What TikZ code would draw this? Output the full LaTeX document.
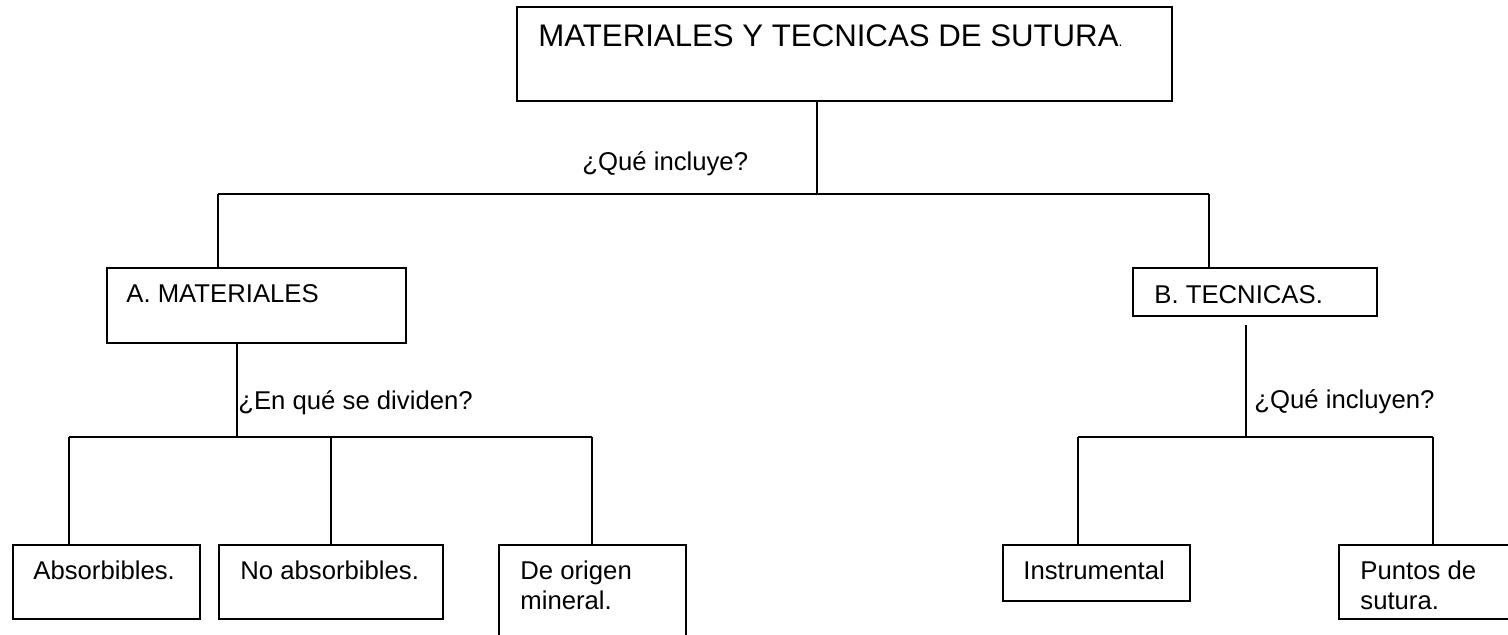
\documentclass[tikz,border=0pt]{standalone}
\usepackage{fontspec}
\setmainfont{Liberation Sans}
\usetikzlibrary{fit}
\begin{document}
\begin{tikzpicture}[x=0.5pt,y=-0.5pt,
  box/.style={draw, rectangle, inner sep=0pt, line width=1pt},
  txt/.style={anchor=base west, inner sep=0pt, font=\fontsize{12.85}{15}\selectfont},
  ttl/.style={anchor=base west, inner sep=0pt, font=\fontsize{15.6}{18}\selectfont},
  conn/.style={draw, line width=1pt}]
\useasboundingbox (0,0) rectangle (1508,635);
\clip (0,0) rectangle (1508,635);
% boxes
\node[box, fit={(517,7) (1172,101)}] (top) {};
\node[box, fit={(107,268) (406,343)}] (A) {};
\node[box, fit={(1133,268) (1377,316)}] (B) {};
\node[box, fit={(13,545) (200,619)}] (abs) {};
\node[box, fit={(219,545) (443,619)}] (noabs) {};
\node[box, fit={(499,545) (686,650)}] (min) {};
\node[box, fit={(1003,545) (1190,601)}] (ins) {};
\node[box, fit={(1339,545) (1520,619)}] (pun) {};
% texts
\node[ttl] (ttop) at (538,47) {MATERIALES Y TECNICAS DE SUTURA{\fontsize{7}{8}\selectfont.}};
\node[txt] (tA) at (126,303) {A. MATERIALES};
\node[txt] (tB) at (1154,304) {B. TECNICAS.};
\node[txt] (tabs) at (33,579) {Absorbibles.};
\node[txt] (tnoabs) at (240,579) {No absorbibles.};
\node[txt] (tmin) at (520,579) {\vtop{\baselineskip=15pt\hbox{De origen}\hbox{mineral.}}};
\node[txt] (tins) at (1023,579) {Instrumental};
\node[txt] (tpun) at (1360,579) {\vtop{\baselineskip=15pt\hbox{Puntos de}\hbox{sutura.}}};
\node[txt] (q1) at (582,171) {¿Qué incluye?};
\node[txt] (q2) at (238,410) {¿En qué se dividen?};
\node[txt] (q3) at (1254,409) {¿Qué incluyen?};
% junctions
\coordinate (j1) at (817,194);
\coordinate (hL) at (218,194);
\coordinate (hR) at (1209,194);
\coordinate (j2) at (237,437);
\coordinate (l1) at (69,437);
\coordinate (l2) at (331,437);
\coordinate (l3) at (592,437);
\coordinate (s3) at (1246,325);
\coordinate (j3) at (1246,437);
\coordinate (r1) at (1078,437);
\coordinate (r2) at (1433,437);
% connectors
\draw[conn] (top.south -| j1) -- (j1);
\draw[conn] (hL) -- (hR);
\draw[conn] (hL) -- (hL |- A.north);
\draw[conn] (hR) -- (hR |- B.north);
\draw[conn] (A.south -| j2) -- (j2);
\draw[conn] (l1) -- (l3);
\draw[conn] (l1) -- (l1 |- abs.north);
\draw[conn] (l2) -- (l2 |- noabs.north);
\draw[conn] (l3) -- (l3 |- min.north);
\draw[conn] (s3) -- (j3);
\draw[conn] (r1) -- (r2);
\draw[conn] (r1) -- (r1 |- ins.north);
\draw[conn] (r2) -- (r2 |- pun.north);
\end{tikzpicture}
\end{document}
